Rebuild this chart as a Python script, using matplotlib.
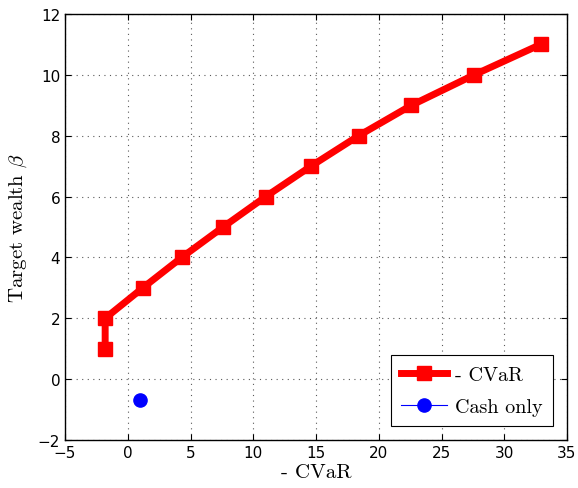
import matplotlib
matplotlib.use('Agg')
import matplotlib.pyplot as plt

plt.rcParams['mathtext.fontset'] = 'cm'
plt.rcParams['axes.unicode_minus'] = True

cvar = [-1.8, -1.8, 1.2, 4.3, 7.6, 11.0, 14.6, 18.4, 22.6, 27.6, 32.9]
beta = [1, 2, 3, 4, 5, 6, 7, 8, 9, 10, 11]
cash_x = [0.95]
cash_y = [-0.67]

fig = plt.figure(figsize=(5.78, 4.89), dpi=100)
ax = fig.add_axes([65/578, 48/489, 502/578, 426/489])

ax.plot(cvar, beta, color='red', lw=5, marker='s', ms=10.5, label='- CVaR')
ax.plot(cash_x, cash_y, color='blue', lw=0.8, marker='o', ms=9.5, label='Cash only')

ax.set_xlim(-5, 35)
ax.set_ylim(-2, 12)
ax.set_xticks(range(-5, 36, 5))
ax.set_yticks(range(-2, 13, 2))
ax.grid(True, linestyle=(0, (1, 4)), color='0.35', lw=0.8)
ax.tick_params(direction='in', top=True, right=True, labelsize=11, length=4)
for s in ax.spines.values():
    s.set_linewidth(1.0)

ax.set_xlabel('- CVaR', fontname='cmr10', fontsize=15, labelpad=2)
ax.set_ylabel(r'Target wealth $\beta$', fontname='cmr10', fontsize=15, labelpad=6)

leg = ax.legend(loc='lower right', prop={'family': 'cmr10', 'size': 14.5},
                fancybox=False, edgecolor='black', framealpha=1,
                handlelength=2.3, handletextpad=0.4, borderaxespad=0.7,
                labelspacing=0.7, borderpad=0.5)
leg.get_frame().set_linewidth(0.8)

fig.savefig('out.png', dpi=100)
